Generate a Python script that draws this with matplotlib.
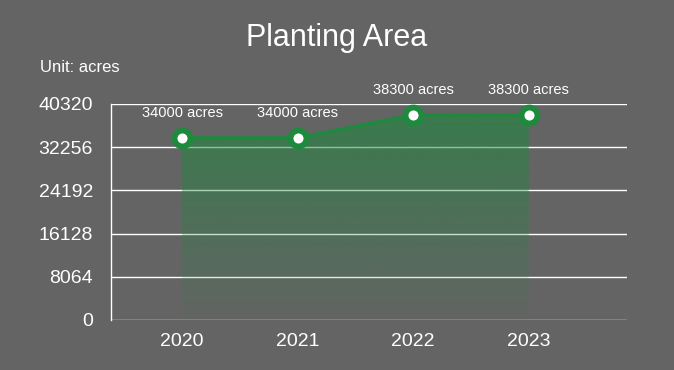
import matplotlib
matplotlib.use("Agg")
import matplotlib.pyplot as plt
import numpy as np
from matplotlib.colors import to_rgb

years = ["2020", "2021", "2022", "2023"]
values = [34000, 34000, 38300, 38300]
y_ticks = [0, 8064, 16128, 24192, 32256, 40320]
title = "Planting Area"
unit_text = "Unit: acres"

BG = "#646464"
GREEN = "#1d8a3d"
plt.rcParams['font.family'] = ['Liberation Sans', 'DejaVu Sans']

fig = plt.figure(figsize=(6.74, 3.70), dpi=100, facecolor=BG)
W, H = 674, 370
ax = fig.add_axes([111 / W, 1 - 320 / H, (627 - 111) / W, (320 - 104) / H])
ax.set_facecolor(BG)

x = np.arange(len(years))
ax.set_xlim(-0.615, 3.85)
ax.set_ylim(0, 40320)

# gradient fill
poly = ax.fill_between(x, values, 0, color="none", lw=0)
rgb = np.array(to_rgb(GREEN))
n = 256
grad = np.zeros((n, 1, 4))
grad[:, 0, :3] = rgb
grad[:, 0, 3] = np.linspace(0.6, 0.02, n)
top = max(values)
im = ax.imshow(grad, extent=[x[0], x[-1], 0, top], origin="upper", aspect="auto", zorder=1)
path = poly.get_paths()[0]
im.set_clip_path(path, transform=ax.transData)

ax.plot(x, values, color=GREEN, lw=2.4, zorder=3)
ax.plot(x, values, 'o', ms=11.5, mfc="white", mec=GREEN, mew=4.2, zorder=4)

for xi, v in zip(x, values):
    ax.annotate(f"{v} acres", (xi, v), xytext=(0, 13), textcoords="offset points",
                ha="center", va="bottom", color="white", fontsize=10.5)

ax.set_yticks(y_ticks)
ax.set_xticks(x, years)
ax.grid(axis="y", color="white", lw=1)
ax.set_axisbelow(True)
for s in ["top", "right", "bottom"]:
    ax.spines[s].set_visible(False)
ax.spines["left"].set_color("white")
ax.spines["left"].set_linewidth(1)
ax.tick_params(axis="y", length=0, pad=13, labelsize=14, labelcolor="white")
ax.tick_params(axis="x", length=0, pad=9, labelsize=14, labelcolor="white")

fig.text(337 / W, 1 - 38 / H, title, ha="center", va="center", color="white", fontsize=22)
fig.text(40 / W, 1 - 68 / H, unit_text, ha="left", va="center", color="white", fontsize=12)

fig.savefig("out.png", dpi=100, facecolor=BG)
